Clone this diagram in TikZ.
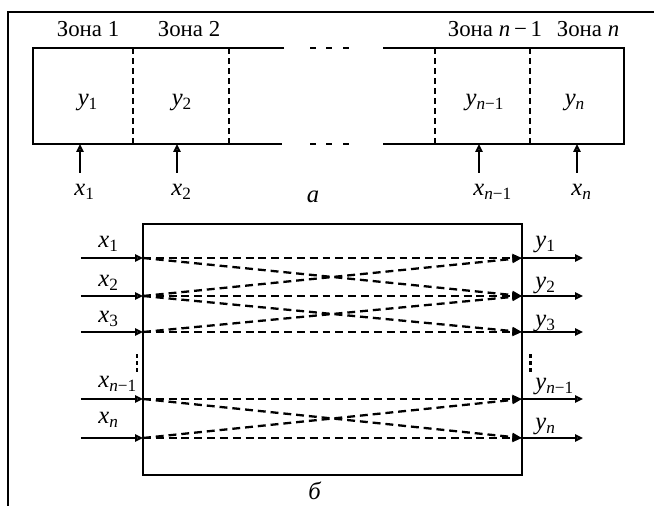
\documentclass[tikz,border=0pt]{standalone}
\usepackage{fontspec}
\setmainfont{Liberation Serif}
\usetikzlibrary{arrows.meta}
\newcommand{\vs}[2]{{\fontsize{14}{16}\selectfont\textit{#1}\textsubscript{#2}}}
\tikzset{
  rail/.style={line width=1.3pt},
  divider/.style={line width=0.8pt, dash pattern=on 3.4pt off 2.3pt},
  inarrow/.style={line width=1.3pt, -{Triangle[open, length=4.5pt, width=4pt]}},
  flow/.style={line width=1.3pt, dash pattern=on 4.5pt off 2.8pt, -{Triangle[length=5.5pt, width=4.5pt]}},
}
\begin{document}
\begin{tikzpicture}[x=0.02cm, y=-0.02cm, font=\fontsize{13}{15}\selectfont]
  \useasboundingbox (0,0) rectangle (654,506);
  \draw[rail] (8,506) -- (8,12) -- (654,12);
  % zones of the tube
  \draw[rail] (284,48) -- (33,48) -- (33,144) -- (282,144);
  \draw[rail] (383,48) -- (624,48) -- (624,144) -- (383,144);
  \foreach \x in {310,326,343}
    \draw[rail] (\x,48) -- ++(6,0) (\x,144) -- ++(6,0);
  \foreach \x in {133,229,435,530}
    \draw[divider] (\x,48) -- (\x,144);
  \foreach \x/\k [count=\i] in {88/1, 189/2, 495/{\textit{n}\,−\,1}, 588/\textit{n}}
    \node (zone\i) at (\x,29) {Зона \k};
  \foreach \x/\k [count=\i] in {88/1, 182/2, 485/{\textit{n}−1}, 575/\textit{n}}
    \node[anchor=base] (cell\i) at (\x,106) {\vs{y}{\k}};
  \foreach \x/\k [count=\i] in {80/1, 177/2, 479/{\textit{n}−1}, 577/\textit{n}} {
    \coordinate (feed\i) at (\x,173);
    \coordinate (port\i) at (\x,144);
    \draw[inarrow] (feed\i) -- (port\i);
    \node[anchor=base west, inner sep=0pt] (xin\i) at (\x-6,196) {\vs{x}{\k}};
  }
  \node[anchor=base] (capa) at (313,203) {\fontsize{14}{16}\selectfont\textit{а}};
  % block scheme
  \draw[rail] (143,224) rectangle (522,475);
  \foreach \r/\y in {1/258, 2/296, 3/332, 4/399, 5/438} {
    \coordinate (in\r) at (143,\y);
    \coordinate (out\r) at (522,\y);
    \coordinate (src\r) at (81,\y);
    \coordinate (dst\r) at (583,\y);
    \draw[inarrow] (src\r) -- (in\r);
    \draw[inarrow] (out\r) -- (dst\r);
  }
  \foreach \a/\b in {1/1, 1/2, 2/1, 2/2, 2/3, 3/2, 3/3, 4/4, 4/5, 5/4, 5/5}
    \draw[flow] (in\a) -- (out\b);
  \foreach \r/\y/\k in {1/248/1, 2/287/2, 3/323/3, 4/388/{\textit{n}−1}, 5/424/\textit{n}}
    \node[anchor=base west, inner sep=0pt] (xlab\r) at (98,\y) {\vs{x}{\k}};
  \foreach \r/\y/\k in {1/248/1, 2/289/2, 3/327/3, 4/390/{\textit{n}−1}, 5/430/\textit{n}}
    \node[anchor=base west, inner sep=0pt] (ylab\r) at (535,\y) {\vs{y}{\k}};
  \foreach \x in {137,530}
    \foreach \y in {356,363,370}
      \fill (\x-1.5,\y-2) rectangle ++(3,4);
  \node[anchor=base] (capb) at (315,500) {\fontsize{14}{16}\selectfont\textit{б}};
\end{tikzpicture}
\end{document}
